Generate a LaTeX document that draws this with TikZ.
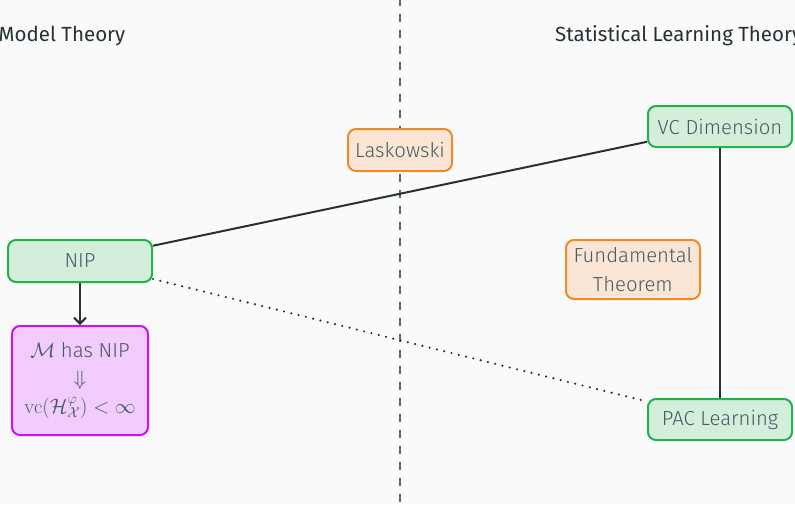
\documentclass[tikz,border=0pt]{standalone}
\usepackage{fontspec}
\setmainfont{Fira Sans}
\setmathrm{Latin Modern Roman}
\IfFontExistsTF{Fira Sans Light}
  {\newfontfamily\boxfont{Fira Sans Light}}
  {\newfontfamily\boxfont{Fira Sans}}
\usetikzlibrary{arrows.meta}

\definecolor{bgcol}{HTML}{FAFAFA}
\definecolor{ink}{HTML}{263238}
\definecolor{boxink}{HTML}{455A64}
\definecolor{sepcol}{HTML}{546E7A}
\definecolor{greenline}{HTML}{22B14C}
\definecolor{greenfill}{HTML}{D3EFDB}
\definecolor{orangeline}{HTML}{EE8A2A}
\definecolor{orangefill}{HTML}{FBE6D5}
\definecolor{magline}{HTML}{CC11EE}
\definecolor{magfill}{HTML}{F2CCFF}

\tikzset{
  box/.style={draw, line width=2pt, rounded corners=8pt, inner sep=0pt,
    align=center, text=boxink, font=\boxfont\fontsize{20.3}{29}\selectfont},
  concept/.style={box, draw=greenline, fill=greenfill},
  note/.style={box, draw=orangeline, fill=orangefill},
  result/.style={box, draw=magline, fill=magfill},
  title/.style={anchor=base west, inner sep=0pt, text=ink,
    font=\fontsize{20.5}{24}\selectfont},
  link/.style={draw=ink, line width=2pt},
  weak/.style={draw=ink, line width=2.4pt, line cap=round,
    dash pattern=on 0pt off 7.5pt},
}

\begin{document}
\begin{tikzpicture}[x=1pt, y=-1pt]
  % canvas
  \fill[bgcol] (0,0) rectangle (795,504);
  \useasboundingbox (0,0) rectangle (795,504);

  % separator between the two fields
  \coordinate (septop) at (400,0);
  \coordinate (sepbot) at (400,504);
  \draw[sepcol, line width=1.3pt, dash pattern=on 8pt off 8pt, dash phase=2pt]
    (septop) -- (sepbot);

  % column headings
  \node[title] (mt) at (-1.5,41) {Model Theory};
  \node[title] (slt) at (555,41) {Statistical Learning Theory};

  % boxes
  \node[concept, minimum width=144pt, minimum height=42pt] (nip) at (80,261) {NIP};
  \node[concept, minimum width=144pt, minimum height=41pt] (vc) at (720,126.5) {VC Dimension};
  \node[concept, minimum width=144pt, minimum height=41pt] (pac) at (720,419.5) {PAC Learning};
  \node[note, minimum width=104pt, minimum height=42pt] (lask) at (400,150) {Laskowski};
  \node[note, minimum width=134pt, minimum height=59pt] (fund) at (633,269.5)
    {Fundamental\\Theorem};
  \node[result, minimum width=136pt, minimum height=109pt] (nipvc) at (80,380.5)
    {$\mathcal{M}$ has NIP\\[-1pt]$\Downarrow$\\[-1pt]$\mathrm{vc}(\mathcal{H}^{\varphi}_{\mathcal{X}})<\infty$};

  % connectors
  \draw[link] (nip) -- (vc);
  \draw[link] (vc) -- (pac);
  \draw[weak] (nip) -- (pac);
  \draw[link, -{Straight Barb[length=6pt, width=12pt, line width=2pt]}] (nip) -- (nipvc);
\end{tikzpicture}
\end{document}
